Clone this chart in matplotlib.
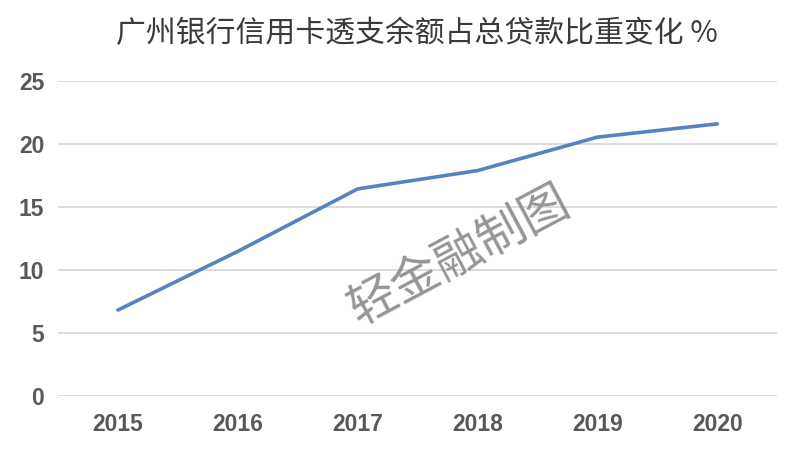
import matplotlib
matplotlib.use('Agg')
import matplotlib.pyplot as plt

# data
years = ['2015', '2016', '2017', '2018', '2019', '2020']
ratio = [6.85, 11.5, 16.45, 17.9, 20.55, 21.6]
yticks = [0, 5, 10, 15, 20, 25]

title = '广州银行信用卡透支余额占总贷款比重变化 %'
watermark = '轻金融制图'

plt.rcParams['font.family'] = ['Liberation Sans', 'Noto Sans CJK SC', 'DejaVu Sans']

fig = plt.figure(figsize=(7.98, 4.57), dpi=100)
ax = fig.add_axes([0.0727, 0.1324, 0.9013, 0.6904])

x = list(range(len(years)))
ax.plot(x, ratio, color='#5683C0', lw=2.6, solid_capstyle='round', zorder=3)

ax.set_xlim(-0.5, len(years) - 0.5)
ax.set_ylim(0, 25)
ax.set_yticks(yticks)
ax.set_xticks(x)
ax.set_xticklabels(years)
ax.grid(axis='y', color='#D9D9D9', lw=1.3)
ax.set_axisbelow(True)
for s in ax.spines.values():
    s.set_visible(False)
ax.tick_params(length=0, labelsize=16.5, labelcolor='#595959', pad=12)
ax.tick_params(axis='y', pad=10)
for lab in ax.get_xticklabels() + ax.get_yticklabels():
    lab.set_fontweight('bold')

fig.text(0.522, 0.927, title, ha='center', va='center', fontsize=21.5,
         color='#3A3A3A', fontweight='light',
         family=['Noto Sans CJK SC', 'DejaVu Sans'])

fig.text(0.575, 0.44, watermark, ha='center', va='center', fontsize=35,
         rotation=28, color='#8A8A8A', alpha=0.9, fontweight='light',
         family=['Noto Sans CJK SC', 'DejaVu Sans'], rotation_mode='anchor')

fig.savefig('out.png', dpi=100)
